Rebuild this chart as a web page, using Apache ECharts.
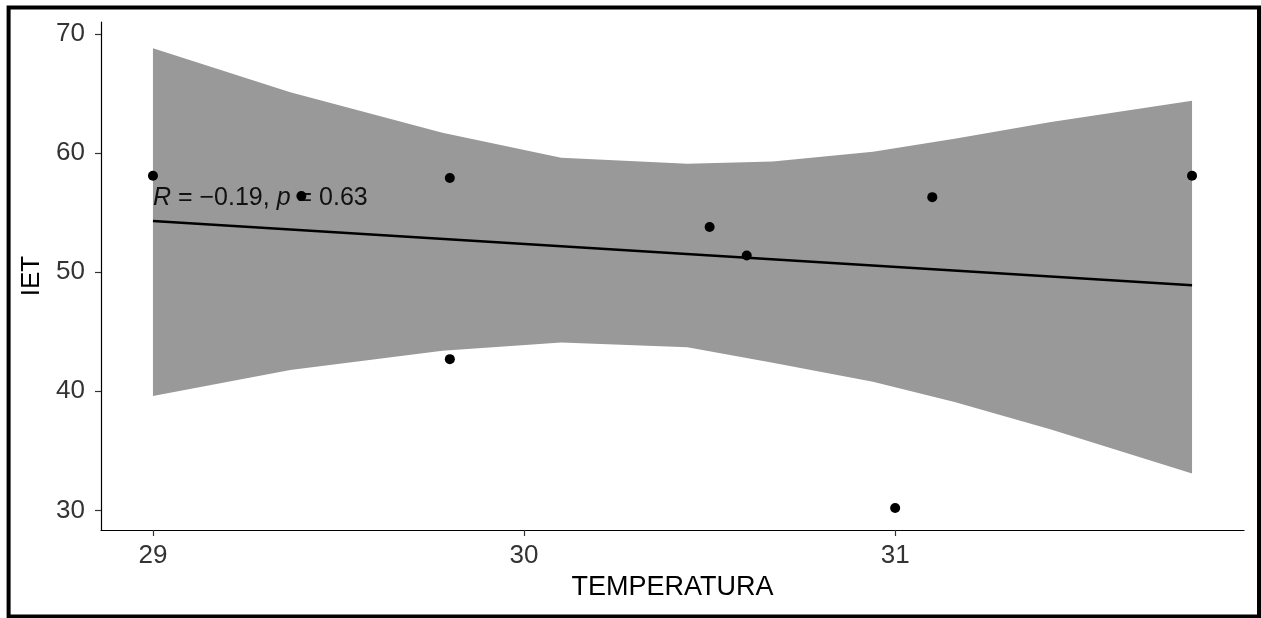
<!DOCTYPE html>
<html>
<head>
<meta charset="utf-8">
<script src="https://cdn.jsdelivr.net/npm/echarts@6/dist/echarts.min.js"></script>
<style>
html,body{margin:0;padding:0;background:#fff;}
#chart{width:1261px;height:618px;}
</style>
</head>
<body>
<div id="chart"></div>
<script>
// Observed points
const temperatura = [29.0, 29.4, 29.8, 29.8, 30.5, 30.6, 31.0, 31.1, 31.8];
const iet = [58.1, 56.4, 57.9, 42.7, 53.8, 51.4, 30.2, 56.3, 58.1];

// Fitted regression line (read at the ends)
const fitX = [29.0, 31.8];
const fitY = [54.3, 48.9];

// Confidence band
const bandX = [29.0, 29.37, 29.78, 30.10, 30.44, 30.67, 30.94, 31.16, 31.42, 31.8];
const bandUpper = [68.8, 65.1, 61.7, 59.6, 59.1, 59.3, 60.1, 61.2, 62.6, 64.4];
const bandLower = [39.6, 41.8, 43.4, 44.1, 43.7, 42.4, 40.8, 39.1, 36.8, 33.1];

// Ticks
const xTicks = [29, 30, 31];
const yTicks = [30, 40, 50, 60, 70];

// Annotation
const corLabel = '{i|R} = \u22120.19, {i|p} = 0.63';
const corAnchor = [29.0, 56.2];

const FONT = "'Liberation Sans', Arial, sans-serif";
const chart = echarts.init(document.getElementById('chart'));

const bandData = bandX.map((x, i) => [x, bandLower[i], bandUpper[i]]);

chart.setOption({
  animation: false,
  backgroundColor: '#fff',
  grid: { left: 101, right: 17, top: 22, bottom: 88, containLabel: false },
  xAxis: {
    type: 'value', min: 28.86, max: 31.94,
    name: 'TEMPERATURA', nameLocation: 'middle', nameGap: 43,
    nameTextStyle: { color: '#000', fontSize: 27, fontFamily: FONT },
    splitLine: { show: false },
    axisLine: { show: true, onZero: false, lineStyle: { color: '#000', width: 1.2 } },
    axisTick: { show: true, length: 6, customValues: xTicks, lineStyle: { color: '#333', width: 1.2 } },
    axisLabel: { customValues: xTicks, margin: 13, color: '#333', fontSize: 26, fontFamily: FONT }
  },
  yAxis: {
    type: 'value', min: 28.36, max: 71.0,
    name: 'IET', nameLocation: 'middle', nameGap: 55, nameRotate: 90,
    nameTextStyle: { color: '#000', fontSize: 26, fontFamily: FONT },
    splitLine: { show: false },
    axisLine: { show: true, onZero: false, lineStyle: { color: '#000', width: 1.2 } },
    axisTick: { show: true, length: 6, customValues: yTicks, lineStyle: { color: '#333', width: 1.2 } },
    axisLabel: { customValues: yTicks, margin: 16, color: '#333', fontSize: 26, fontFamily: FONT }
  },
  series: [
    {
      type: 'custom',
      name: 'band',
      z: 1,
      data: bandData,
      encode: { x: 0, y: [1, 2] },
      renderItem: function (params, api) {
        if (params.dataIndex !== 0) return null;
        const pts = [];
        for (let i = 0; i < bandData.length; i++) pts.push(api.coord([bandData[i][0], bandData[i][2]]));
        for (let i = bandData.length - 1; i >= 0; i--) pts.push(api.coord([bandData[i][0], bandData[i][1]]));
        return { type: 'polygon', shape: { points: pts }, style: { fill: '#999999', stroke: null } };
      }
    },
    {
      type: 'line',
      name: 'fit',
      z: 2,
      data: fitX.map((x, i) => [x, fitY[i]]),
      showSymbol: false,
      symbol: 'none',
      lineStyle: { color: '#000', width: 2.5 }
    },
    {
      type: 'custom',
      name: 'cor',
      z: 3,
      data: [corAnchor],
      renderItem: function (params, api) {
        const p = api.coord([api.value(0), api.value(1)]);
        return {
          type: 'text',
          x: p[0], y: p[1],
          style: {
            text: corLabel,
            fill: '#111',
            font: '25px ' + FONT,
            textAlign: 'left',
            textVerticalAlign: 'middle',
            rich: { i: { fontStyle: 'italic', fontSize: 25, fontFamily: FONT, fill: '#111' } }
          }
        };
      }
    },
    {
      type: 'scatter',
      name: 'points',
      z: 4,
      data: temperatura.map((x, i) => [x, iet[i]]),
      symbol: 'circle',
      symbolSize: 10,
      itemStyle: { color: '#000', opacity: 1 }
    }
  ],
  graphic: [
    {
      type: 'rect', z: 100, silent: true,
      shape: { x: 8.6, y: 7.5, width: 1250.4, height: 609 },
      style: { fill: 'none', stroke: '#000', lineWidth: 4 }
    }
  ]
});
</script>
</body>
</html>
